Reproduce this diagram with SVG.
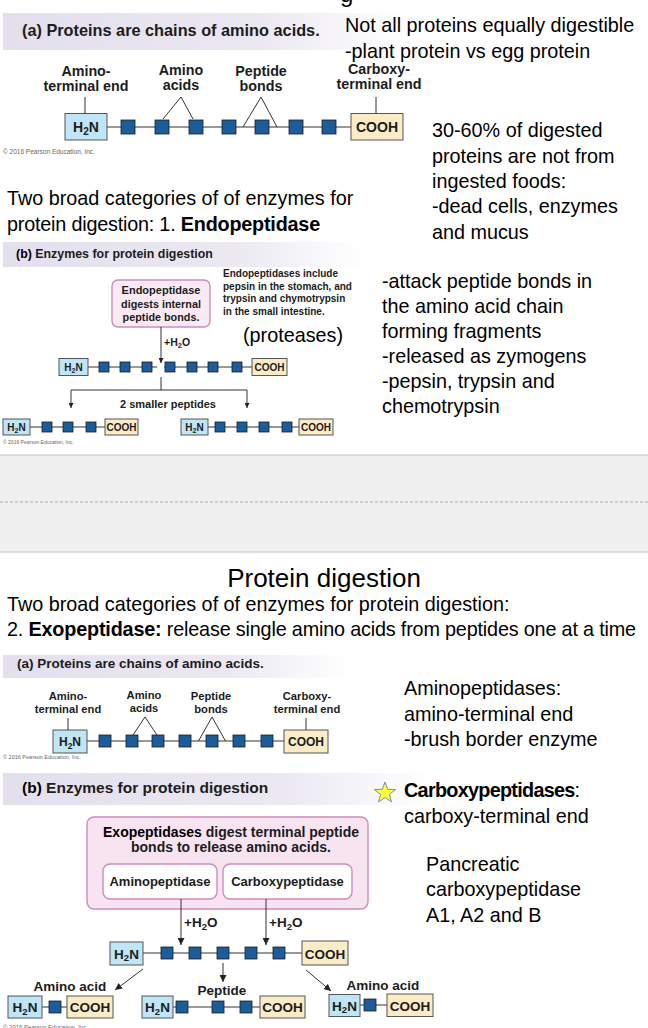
<svg xmlns="http://www.w3.org/2000/svg" width="648" height="1028" viewBox="0 0 648 1028">
<defs>
<style>
.t{font-family:"Liberation Sans",Arial,sans-serif;font-size:19.8px;fill:#000}
.f{font-family:"Liberation Sans",Arial,sans-serif;font-weight:bold;fill:#1c1c1c}
.n{fill:#bfe5f6;stroke:#555;stroke-width:1}
.c{fill:#fcebc7;stroke:#555;stroke-width:1}
.a{fill:#1b5d9a;stroke:#1c1c1c;stroke-width:0.8}
.l{stroke:#333;stroke-width:1;fill:none}
.cp{font-family:"Liberation Sans",Arial,sans-serif;fill:#666}
.pk{fill:#f8e3f1;stroke:#c98dbd;stroke-width:1.4}
</style>
<linearGradient id="band" x1="0" y1="0" x2="1" y2="0">
<stop offset="0" stop-color="#e3dfed"/><stop offset="0.65" stop-color="#ebe8f2"/><stop offset="1" stop-color="#ffffff"/>
</linearGradient>
<marker id="ah" viewBox="0 0 10 10" refX="10" refY="5" markerWidth="7" markerHeight="7" markerUnits="userSpaceOnUse" orient="auto"><path d="M0,0 L10,5 L0,10 z" fill="#222"/></marker>
<marker id="ahs" viewBox="0 0 10 10" refX="10" refY="5" markerWidth="5" markerHeight="5" markerUnits="userSpaceOnUse" orient="auto"><path d="M0,0 L10,5 L0,10 z" fill="#222"/></marker>
</defs>
<rect x="0" y="0" width="648" height="1028" fill="#ffffff"/>

<!-- ===== Section 1 (a) ===== -->
<g id="header1a">
<rect x="3" y="13" width="400" height="37" fill="url(#band)"/>
<text class="f" x="22" y="36" font-size="16.3" fill="#111">(a) Proteins are chains of amino acids.</text>
</g>
<g id="labels1a" class="f" font-size="14.3" text-anchor="middle">
<text x="86" y="76">Amino-</text><text x="86" y="91">terminal end</text>
<text x="181" y="75">Amino</text><text x="181" y="90">acids</text>
<text x="261" y="75.5">Peptide</text><text x="261" y="90.5">bonds</text>
<text x="379" y="74">Carboxy-</text><text x="379" y="89">terminal end</text>
</g>
<g id="chain1a">
<line class="l" x1="107" y1="127" x2="351" y2="127"/>
<rect class="n" x="65" y="113.5" width="42" height="26.5"/>
<text class="f" x="86" y="132" font-size="14" text-anchor="middle">H<tspan font-size="10" dy="3">2</tspan><tspan dy="-3">N</tspan></text>
<rect class="a" x="121" y="120" width="14" height="14"/>
<rect class="a" x="155" y="120" width="14" height="14"/>
<rect class="a" x="189" y="120" width="14" height="14"/>
<rect class="a" x="222" y="120" width="14" height="14"/>
<rect class="a" x="255" y="120" width="14" height="14"/>
<rect class="a" x="289" y="120" width="14" height="14"/>
<rect class="a" x="322" y="120" width="14" height="14"/>
<rect class="c" x="351" y="113.5" width="52" height="26.5"/>
<text class="f" x="377" y="132" font-size="14" text-anchor="middle">COOH</text>
</g>
<text class="cp" x="3" y="154" font-size="6.5">© 2016 Pearson Education, Inc.</text>

<!-- ===== Section 1 (b) ===== -->
<g id="header1b">
<rect x="3" y="242" width="360" height="25" fill="url(#band)"/>
<text class="f" x="16" y="258" font-size="12.4"><tspan fill="#000">(b)</tspan> Enzymes for protein digestion</text>
</g>
<g id="endoBubble">
<rect class="pk" x="112" y="280" width="98" height="47" rx="6" style="fill:#fbeaf4"/>
<text class="f" x="161" y="294" font-size="11" text-anchor="middle" fill="#000">Endopeptidase</text>
<text class="f" x="161" y="308" font-size="10.8" text-anchor="middle" fill="#333">digests internal</text>
<text class="f" x="161" y="321" font-size="10.8" text-anchor="middle" fill="#333">peptide bonds.</text>
</g>
<g id="endoNote" class="f" font-size="10" fill="#3a3a3a">
<text x="223" y="277">Endopeptidases include</text>
<text x="223" y="289.5">pepsin in the stomach, and</text>
<text x="223" y="302">trypsin and chymotrypsin</text>
<text x="223" y="314.5">in the small intestine.</text>
</g>
<text class="f" x="164" y="346" font-size="10.5">+H<tspan font-size="7.5" dy="2">2</tspan><tspan dy="-2">O</tspan></text>
<g id="chain1b">
<line class="l" x1="88" y1="367" x2="157" y2="367"/>
<line class="l" x1="164" y1="367" x2="252" y2="367"/>
<rect class="n" x="59" y="358.5" width="29" height="17"/>
<text class="f" x="73.5" y="371" font-size="10" text-anchor="middle">H<tspan font-size="7" dy="2">2</tspan><tspan dy="-2">N</tspan></text>
<rect class="a" x="99" y="362" width="10" height="10"/>
<rect class="a" x="120" y="362" width="10" height="10"/>
<rect class="a" x="142" y="362" width="10" height="10"/>
<rect class="a" x="165" y="362" width="10" height="10"/>
<rect class="a" x="187" y="362" width="10" height="10"/>
<rect class="a" x="208" y="362" width="10" height="10"/>
<rect class="a" x="232" y="362" width="10" height="10"/>
<rect class="c" x="252" y="358.5" width="35" height="17"/>
<text class="f" x="269.5" y="371" font-size="10" text-anchor="middle">COOH</text>
</g>
<text class="f" x="168" y="408" font-size="11" text-anchor="middle">2 smaller peptides</text>
<g id="pep1L">
<line class="l" x1="30" y1="427" x2="105" y2="427"/>
<rect class="n" x="3" y="419" width="27" height="16"/>
<text class="f" x="16.5" y="431" font-size="10" text-anchor="middle">H<tspan font-size="7" dy="2">2</tspan><tspan dy="-2">N</tspan></text>
<rect class="a" x="42" y="422" width="10" height="10"/>
<rect class="a" x="63" y="422" width="10" height="10"/>
<rect class="a" x="86" y="422" width="10" height="10"/>
<rect class="c" x="105" y="419" width="33" height="16"/>
<text class="f" x="121.5" y="431" font-size="10" text-anchor="middle">COOH</text>
</g>
<g id="pep1R">
<line class="l" x1="208" y1="427" x2="299" y2="427"/>
<rect class="n" x="181" y="419" width="27" height="16"/>
<text class="f" x="194.5" y="431" font-size="10" text-anchor="middle">H<tspan font-size="7" dy="2">2</tspan><tspan dy="-2">N</tspan></text>
<rect class="a" x="215" y="422" width="10" height="10"/>
<rect class="a" x="237" y="422" width="10" height="10"/>
<rect class="a" x="259" y="422" width="10" height="10"/>
<rect class="a" x="282" y="422" width="10" height="10"/>
<rect class="c" x="299" y="419" width="34" height="16"/>
<text class="f" x="316" y="431" font-size="10" text-anchor="middle">COOH</text>
</g>
<text class="cp" x="3" y="444" font-size="5">© 2016 Pearson Education, Inc.</text>

<!-- ===== Divider ===== -->
<g id="divider">
<rect x="0" y="455" width="648" height="97" fill="#f0f0f0"/>
<line x1="0" y1="455" x2="648" y2="455" stroke="#c2c2c2" stroke-width="1"/>
<line x1="0" y1="502" x2="648" y2="502" stroke="#a8a8a8" stroke-width="1" stroke-dasharray="3,2"/>
<line x1="0" y1="552" x2="648" y2="552" stroke="#c2c2c2" stroke-width="1"/>
</g>

<!-- ===== Section 2 ===== -->
<g id="header2a">
<rect x="3" y="655" width="345" height="23" fill="url(#band)"/>
<text class="f" x="17" y="668" font-size="13.5" fill="#111">(a) Proteins are chains of amino acids.</text>
</g>
<g id="labels2a" class="f" font-size="11.2" text-anchor="middle">
<text x="68" y="700">Amino-</text><text x="68" y="713">terminal end</text>
<text x="144" y="699">Amino</text><text x="144" y="712">acids</text>
<text x="211" y="700">Peptide</text><text x="211" y="713">bonds</text>
<text x="307" y="700">Carboxy-</text><text x="307" y="713">terminal end</text>
</g>
<g id="chain2a">
<line class="l" x1="87" y1="741" x2="284" y2="741"/>
<rect class="n" x="53" y="730" width="34" height="23"/>
<text class="f" x="70" y="746" font-size="12" text-anchor="middle">H<tspan font-size="8.5" dy="2.5">2</tspan><tspan dy="-2.5">N</tspan></text>
<rect class="a" x="99" y="735" width="12" height="12"/>
<rect class="a" x="126" y="735" width="12" height="12"/>
<rect class="a" x="152" y="735" width="12" height="12"/>
<rect class="a" x="179" y="735" width="12" height="12"/>
<rect class="a" x="206" y="735" width="12" height="12"/>
<rect class="a" x="233" y="735" width="12" height="12"/>
<rect class="a" x="261" y="735" width="12" height="12"/>
<rect class="c" x="284" y="730" width="44" height="23"/>
<text class="f" x="306" y="746" font-size="12" text-anchor="middle">COOH</text>
</g>
<text class="cp" x="3" y="759" font-size="5.5">© 2016 Pearson Education, Inc.</text>

<g id="header2b">
<rect x="3" y="773" width="430" height="32" fill="url(#band)"/>
<text class="f" x="22" y="793" font-size="15.5"><tspan fill="#000">(b)</tspan> Enzymes for protein digestion</text>
</g>
<g id="star">
<path d="M385,782 L387.7,789.3 L395.5,789.6 L389.4,794.4 L391.5,801.9 L385,797.6 L378.5,801.9 L380.6,794.4 L374.5,789.6 L382.3,789.3 Z" fill="#ffff3a" stroke="#7890b0" stroke-width="1"/>
</g>
<g id="exoBox">
<rect class="pk" x="87" y="817" width="281" height="92" rx="7"/>
<text class="f" x="231" y="837" font-size="14" text-anchor="middle" fill="#222"><tspan fill="#000">Exopeptidases</tspan> digest terminal peptide</text>
<text class="f" x="231" y="852" font-size="14" text-anchor="middle" fill="#222">bonds to release amino acids.</text>
</g>
<g id="aminopeptidase">
<rect x="103" y="864" width="114" height="35" rx="7" fill="#ffffff" stroke="#c98dbd" stroke-width="1.4"/>
<text class="f" x="160" y="886" font-size="13" text-anchor="middle">Aminopeptidase</text>
</g>
<g id="carboxypeptidase">
<rect x="223" y="864" width="129" height="35" rx="7" fill="#ffffff" stroke="#c98dbd" stroke-width="1.4"/>
<text class="f" x="287.5" y="886" font-size="13" text-anchor="middle">Carboxypeptidase</text>
</g>
<text class="f" x="184" y="927" font-size="13.5">+H<tspan font-size="9.5" dy="2.5">2</tspan><tspan dy="-2.5">O</tspan></text>
<text class="f" x="269" y="927" font-size="13.5">+H<tspan font-size="9.5" dy="2.5">2</tspan><tspan dy="-2.5">O</tspan></text>
<g id="chain2b">
<line class="l" x1="143" y1="953" x2="302" y2="953"/>
<rect class="n" x="110" y="942" width="33" height="23"/>
<text class="f" x="126.5" y="958.5" font-size="13.5" text-anchor="middle">H<tspan font-size="9.5" dy="2.5">2</tspan><tspan dy="-2.5">N</tspan></text>
<rect class="a" x="161" y="947" width="12" height="12"/>
<rect class="a" x="189" y="947" width="12" height="12"/>
<rect class="a" x="217" y="947" width="12" height="12"/>
<rect class="a" x="245" y="947" width="12" height="12"/>
<rect class="a" x="273" y="947" width="12" height="12"/>
<rect class="c" x="302" y="941" width="46" height="24"/>
<text class="f" x="325" y="958.5" font-size="13.5" text-anchor="middle">COOH</text>
</g>
<g id="labels2b" class="f" font-size="13.5" text-anchor="middle">
<text x="70" y="991">Amino acid</text>
<text x="222" y="995">Peptide</text>
<text x="383" y="990">Amino acid</text>
</g>
<g id="aaLeft">
<line class="l" x1="42" y1="1007" x2="67" y2="1007"/>
<rect class="n" x="8" y="996" width="34" height="22"/>
<text class="f" x="25" y="1012" font-size="13.5" text-anchor="middle">H<tspan font-size="9.5" dy="2.5">2</tspan><tspan dy="-2.5">N</tspan></text>
<rect class="a" x="49" y="1001" width="12" height="12"/>
<rect class="c" x="67" y="996" width="46" height="22"/>
<text class="f" x="90" y="1012" font-size="13.5" text-anchor="middle">COOH</text>
</g>
<g id="peptide2">
<line class="l" x1="173" y1="1007" x2="260" y2="1007"/>
<rect class="n" x="142" y="996" width="31" height="22"/>
<text class="f" x="157.5" y="1012" font-size="13.5" text-anchor="middle">H<tspan font-size="9.5" dy="2.5">2</tspan><tspan dy="-2.5">N</tspan></text>
<rect class="a" x="176" y="1001" width="12" height="12"/>
<rect class="a" x="212" y="1001" width="12" height="12"/>
<rect class="a" x="240" y="1001" width="12" height="12"/>
<rect class="c" x="260" y="996" width="45" height="22"/>
<text class="f" x="282.5" y="1012" font-size="13.5" text-anchor="middle">COOH</text>
</g>
<g id="aaRight">
<line class="l" x1="360" y1="1005" x2="387" y2="1005"/>
<rect class="n" x="329" y="994.5" width="31" height="22"/>
<text class="f" x="344.5" y="1010.5" font-size="13.5" text-anchor="middle">H<tspan font-size="9.5" dy="2.5">2</tspan><tspan dy="-2.5">N</tspan></text>
<rect class="a" x="364" y="999" width="12" height="12"/>
<rect class="c" x="387" y="994" width="46" height="22.5"/>
<text class="f" x="410" y="1010.5" font-size="13.5" text-anchor="middle">COOH</text>
</g>
<text class="cp" x="3" y="1029" font-size="6">© 2016 Pearson Education, Inc.</text>

<!-- ===== Slide texts ===== -->
<g id="notes1">
<text class="t" x="340" y="2" style="font-size:24px">g</text>
<text class="t" x="345" y="32">Not all proteins equally digestible</text>
<text class="t" x="345" y="57.5">-plant protein vs egg protein</text>
<text class="t" x="432" y="137">30-60% of digested</text>
<text class="t" x="432" y="162.5">proteins are not from</text>
<text class="t" x="432" y="188">ingested foods:</text>
<text class="t" x="432" y="213">-dead cells, enzymes</text>
<text class="t" x="432" y="238.5">and mucus</text>
<text class="t" x="7" y="205">Two broad categories of of enzymes for</text>
<text class="t" x="7" y="231" letter-spacing="-0.2">protein digestion: 1. <tspan font-weight="bold">Endopeptidase</tspan></text>
<text class="t" x="382" y="288">-attack peptide bonds in</text>
<text class="t" x="382" y="313">the amino acid chain</text>
<text class="t" x="382" y="337.5">forming fragments</text>
<text class="t" x="382" y="363">-released as zymogens</text>
<text class="t" x="382" y="388">-pepsin, trypsin and</text>
<text class="t" x="382" y="413">chemotrypsin</text>
<text class="t" x="243" y="342">(proteases)</text>
</g>
<g id="notes2">
<text class="t" x="324" y="587" text-anchor="middle" style="font-size:26px">Protein digestion</text>
<text class="t" x="7" y="611">Two broad categories of of enzymes for protein digestion:</text>
<text class="t" x="7" y="636" letter-spacing="-0.17">2. <tspan font-weight="bold">Exopeptidase:</tspan> release single amino acids from peptides one at a time</text>
<text class="t" x="404" y="695">Aminopeptidases:</text>
<text class="t" x="404" y="721">amino-terminal end</text>
<text class="t" x="404" y="746">-brush border enzyme</text>
<text class="t" x="404" y="797" letter-spacing="-0.7"><tspan font-weight="bold">Carboxypeptidases</tspan>:</text>
<text class="t" x="404" y="823">carboxy-terminal end</text>
<text class="t" x="426" y="871">Pancreatic</text>
<text class="t" x="426" y="896">carboxypeptidase</text>
<text class="t" x="426" y="922">A1, A2 and B</text>
</g>

<!-- ===== Connectors ===== -->
<g id="connectors" class="l">
<line x1="85" y1="97" x2="85" y2="113.5"/>
<polyline points="163,119 181,97 193,119"/>
<polyline points="243,127 261,97 277,127"/>
<line x1="376" y1="97" x2="376" y2="113.5"/>
<line x1="161" y1="327" x2="161" y2="363" marker-end="url(#ahs)"/>
<line x1="161" y1="377" x2="161" y2="390"/>
<line x1="71" y1="390" x2="247" y2="390"/>
<line x1="71" y1="390" x2="71" y2="408" marker-end="url(#ahs)"/>
<line x1="247" y1="390" x2="247" y2="408" marker-end="url(#ahs)"/>
<line x1="68" y1="718" x2="68" y2="730"/>
<polyline points="133,735 145,717 157,735"/>
<polyline points="198.5,741 212,717 225.5,741"/>
<line x1="306" y1="718" x2="306" y2="730"/>
<line x1="181" y1="899" x2="181" y2="945" marker-end="url(#ah)"/>
<line x1="266" y1="899" x2="266" y2="945" marker-end="url(#ah)"/>
<line x1="143" y1="969" x2="115" y2="990" marker-end="url(#ah)"/>
<line x1="223" y1="963" x2="223" y2="982" marker-end="url(#ah)"/>
<line x1="306" y1="970" x2="331" y2="991" marker-end="url(#ah)"/>
</g>
</svg>
